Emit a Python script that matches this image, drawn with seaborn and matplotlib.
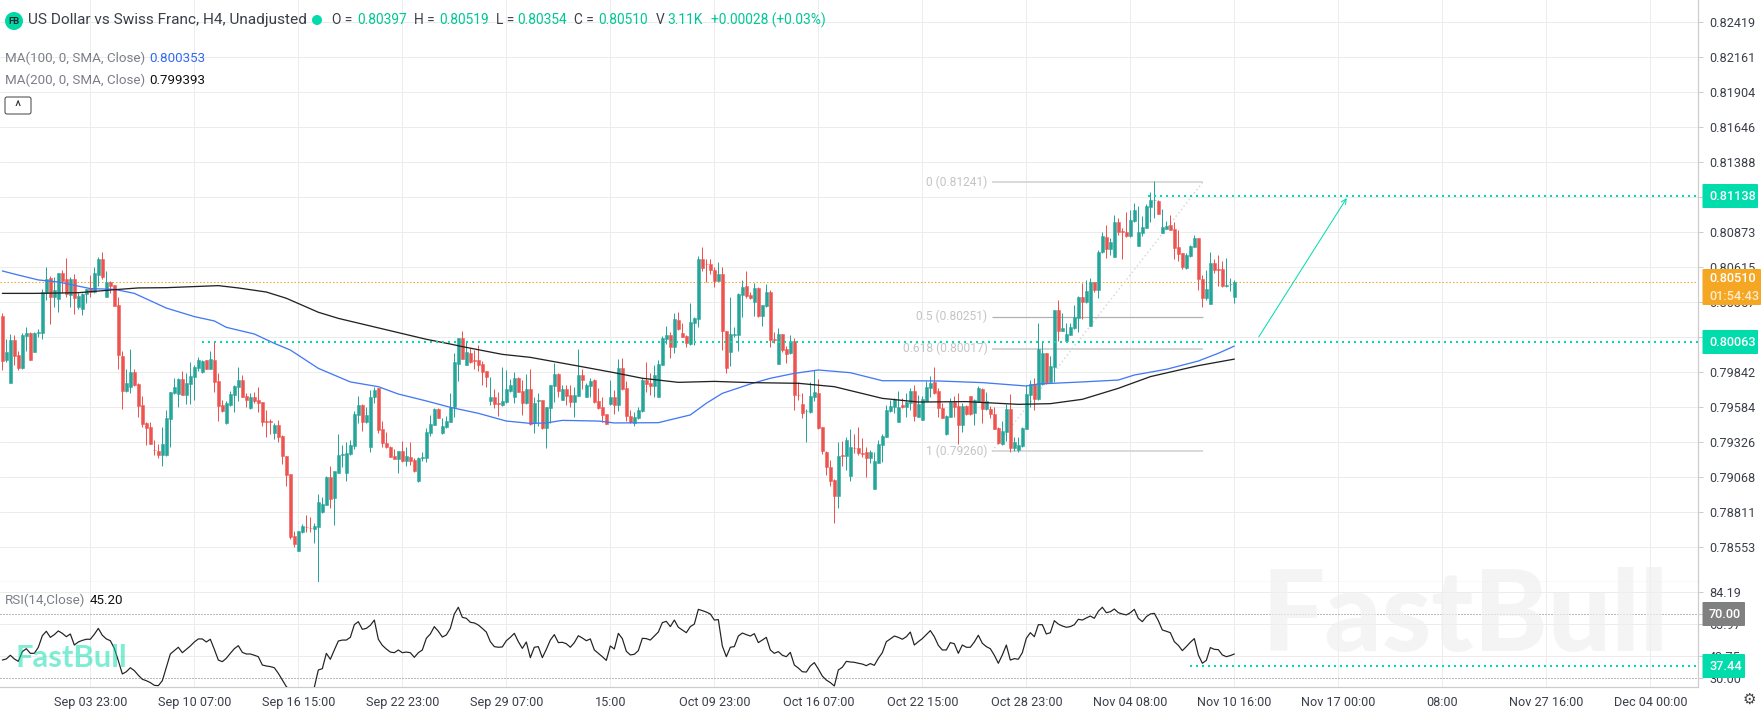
import matplotlib
matplotlib.use("Agg")
import matplotlib.pyplot as plt
from matplotlib.patches import Circle, FancyBboxPatch
import seaborn as sns

# candles, one per 4h bar
open_prices = [
    0.80257, 0.79933, 0.79766, 0.80080, 0.79969, 0.79874, 0.80109, 0.80131, 0.79994, 0.80132,
    0.80134, 0.80428, 0.80534, 0.80399, 0.80384, 0.80571, 0.80527, 0.80414, 0.80527, 0.80325,
    0.80308, 0.80419, 0.80463, 0.80436, 0.80558, 0.80676, 0.80399, 0.80507, 0.80482, 0.80335,
    0.79962, 0.79707, 0.79736, 0.79844, 0.79756, 0.79601, 0.79466, 0.79437, 0.79272, 0.79263,
    0.79233, 0.79236, 0.79496, 0.79692, 0.79682, 0.79793, 0.79677, 0.79758, 0.79810, 0.79876,
    0.79844, 0.79933, 0.79869, 0.79933, 0.79775, 0.79601, 0.79466, 0.79601, 0.79675, 0.79736,
    0.79785, 0.79667, 0.79582, 0.79660, 0.79636, 0.79623, 0.79481, 0.79481, 0.79398, 0.79454,
    0.79373, 0.79226, 0.79093, 0.78636, 0.78526, 0.78666, 0.78705, 0.78697, 0.78688, 0.78703,
    0.78816, 0.78865, 0.79074, 0.78917, 0.79103, 0.79236, 0.79098, 0.79238, 0.79302, 0.79528,
    0.79601, 0.79476, 0.79294, 0.79658, 0.79724, 0.79425, 0.79324, 0.79294, 0.79226, 0.79204,
    0.79263, 0.79186, 0.79218, 0.79196, 0.79042, 0.79214, 0.79211, 0.79398, 0.79456, 0.79574,
    0.79393, 0.79437, 0.79479, 0.79589, 0.79903, 0.80095, 0.79896, 0.79984, 0.79932, 0.79933,
    0.79903, 0.79849, 0.79633, 0.79660, 0.79616, 0.79601, 0.79623, 0.79707, 0.79658, 0.79800,
    0.79707, 0.79614, 0.79717, 0.79466, 0.79634, 0.79638, 0.79434, 0.79582, 0.79741, 0.79832,
    0.79638, 0.79719, 0.79675, 0.79623, 0.79667, 0.79822, 0.79663, 0.79741, 0.79785, 0.79631,
    0.79587, 0.79535, 0.79609, 0.79658, 0.79601, 0.79874, 0.79726, 0.79520, 0.79466, 0.79506,
    0.79555, 0.79785, 0.79766, 0.79741, 0.79663, 0.79896, 0.80087, 0.80117, 0.80031, 0.80227,
    0.80131, 0.80109, 0.80050, 0.80207, 0.80237, 0.80679, 0.80641, 0.80639, 0.80595, 0.80517,
    0.80566, 0.80149, 0.79991, 0.80120, 0.80117, 0.80411, 0.80477, 0.80411, 0.80360, 0.80463,
    0.80257, 0.80330, 0.80433, 0.80087, 0.79906, 0.80124, 0.80014, 0.79982, 0.80072, 0.79677,
    0.79609, 0.79555, 0.79550, 0.79663, 0.79692, 0.79439, 0.79258, 0.79142, 0.79049, 0.78934,
    0.79233, 0.79228, 0.79081, 0.79287, 0.79285, 0.79247, 0.79255, 0.79211, 0.78985, 0.79177,
    0.79304, 0.79368, 0.79557, 0.79586, 0.79478, 0.79604, 0.79584, 0.79618, 0.79707, 0.79515,
    0.79491, 0.79633, 0.79726, 0.79768, 0.79707, 0.79579, 0.79385, 0.79515, 0.79623, 0.79594,
    0.79451, 0.79594, 0.79667, 0.79540, 0.79626, 0.79719, 0.79569, 0.79574, 0.79535, 0.79434,
    0.79314, 0.79405, 0.79572, 0.79282, 0.79270, 0.79299, 0.79424, 0.79675, 0.79756, 0.79643,
    0.79753, 0.79982, 0.79771, 0.79883, 0.80301, 0.80146, 0.80072, 0.80119, 0.80166, 0.80242,
    0.80399, 0.80359, 0.80185, 0.80509, 0.80448, 0.80728, 0.80838, 0.80750, 0.80693, 0.80948,
    0.80882, 0.80875, 0.80845, 0.80953, 0.80772, 0.80868, 0.80904, 0.81061, 0.81108, 0.81106,
    0.80868, 0.80897, 0.80929, 0.80897, 0.80764, 0.80718, 0.80610, 0.80698, 0.80767, 0.80831,
    0.80526, 0.80389, 0.80347, 0.80647, 0.80602, 0.80602, 0.80480, 0.80490, 0.80397,
]
high_prices = [
    0.80276, 0.80085, 0.80124, 0.80119, 0.79996, 0.80134, 0.80178, 0.80139, 0.80139, 0.80158,
    0.80453, 0.80615, 0.80551, 0.80546, 0.80571, 0.80595, 0.80681, 0.80546, 0.80563, 0.80428,
    0.80428, 0.80458, 0.80556, 0.80620, 0.80689, 0.80725, 0.80585, 0.80517, 0.80482, 0.80399,
    0.80001, 0.79864, 0.80011, 0.79864, 0.79761, 0.79670, 0.79476, 0.79476, 0.79344, 0.79312,
    0.79442, 0.79564, 0.79699, 0.79798, 0.79803, 0.79854, 0.79834, 0.79920, 0.79893, 0.79952,
    0.79933, 0.79933, 0.79996, 0.80065, 0.79834, 0.79638, 0.79628, 0.79707, 0.79746, 0.79879,
    0.79822, 0.79687, 0.79692, 0.79697, 0.79731, 0.79623, 0.79564, 0.79496, 0.79466, 0.79491,
    0.79378, 0.79226, 0.79093, 0.78673, 0.78673, 0.78725, 0.78791, 0.78776, 0.78732, 0.78943,
    0.78926, 0.79081, 0.79155, 0.79115, 0.79385, 0.79307, 0.79326, 0.79344, 0.79560, 0.79667,
    0.79609, 0.79589, 0.79712, 0.79731, 0.79724, 0.79486, 0.79405, 0.79299, 0.79275, 0.79263,
    0.79339, 0.79290, 0.79326, 0.79209, 0.79221, 0.79258, 0.79429, 0.79528, 0.79579, 0.79579,
    0.79503, 0.79520, 0.79687, 0.79987, 0.80095, 0.80144, 0.80075, 0.80018, 0.80004, 0.80041,
    0.79928, 0.79854, 0.79805, 0.79717, 0.79695, 0.79879, 0.79859, 0.79790, 0.79842, 0.79810,
    0.79785, 0.79829, 0.79864, 0.79658, 0.79692, 0.79638, 0.79589, 0.79748, 0.79913, 0.79834,
    0.79751, 0.79746, 0.79751, 0.79736, 0.80011, 0.79864, 0.79766, 0.79798, 0.79790, 0.79724,
    0.79663, 0.79535, 0.79785, 0.79712, 0.79937, 0.79945, 0.79780, 0.79564, 0.79552, 0.79589,
    0.79798, 0.79920, 0.79839, 0.79896, 0.79933, 0.80109, 0.80185, 0.80141, 0.80276, 0.80288,
    0.80203, 0.80114, 0.80355, 0.80247, 0.80698, 0.80762, 0.80679, 0.80674, 0.80615, 0.80654,
    0.80620, 0.80149, 0.80394, 0.80173, 0.80423, 0.80522, 0.80585, 0.80436, 0.80502, 0.80468,
    0.80340, 0.80492, 0.80448, 0.80141, 0.80168, 0.80124, 0.80036, 0.80114, 0.80092, 0.79773,
    0.79692, 0.79569, 0.79773, 0.79859, 0.79790, 0.79442, 0.79265, 0.79196, 0.79054, 0.79326,
    0.79339, 0.79368, 0.79422, 0.79388, 0.79442, 0.79356, 0.79294, 0.79270, 0.79258, 0.79343,
    0.79388, 0.79601, 0.79638, 0.79655, 0.79704, 0.79650, 0.79687, 0.79729, 0.79748, 0.79672,
    0.79667, 0.79778, 0.79815, 0.79878, 0.79724, 0.79613, 0.79528, 0.79650, 0.79667, 0.79687,
    0.79613, 0.79599, 0.79667, 0.79643, 0.79741, 0.79724, 0.79699, 0.79594, 0.79584, 0.79442,
    0.79486, 0.79606, 0.79682, 0.79368, 0.79363, 0.79437, 0.79748, 0.79785, 0.79797, 0.80207,
    0.80067, 0.79987, 0.79962, 0.80301, 0.80374, 0.80276, 0.80202, 0.80202, 0.80337, 0.80404,
    0.80497, 0.80521, 0.80534, 0.80509, 0.80742, 0.80877, 0.80926, 0.80828, 0.80998, 0.80975,
    0.80902, 0.81022, 0.81037, 0.81086, 0.81066, 0.80993, 0.81081, 0.81169, 0.81248, 0.81110,
    0.81047, 0.80953, 0.80998, 0.80951, 0.80887, 0.80720, 0.80718, 0.80779, 0.80850, 0.80831,
    0.80556, 0.80595, 0.80725, 0.80674, 0.80706, 0.80661, 0.80681, 0.80534, 0.80519,
]
low_prices = [
    0.79859, 0.79918, 0.79766, 0.79896, 0.79859, 0.79869, 0.80001, 0.79935, 0.79991, 0.80104,
    0.80090, 0.80374, 0.80198, 0.80325, 0.80288, 0.80423, 0.80399, 0.80320, 0.80271, 0.80308,
    0.80266, 0.80355, 0.80399, 0.80428, 0.80477, 0.80527, 0.80399, 0.80428, 0.80333, 0.79869,
    0.79569, 0.79699, 0.79692, 0.79744, 0.79510, 0.79442, 0.79304, 0.79312, 0.79233, 0.79209,
    0.79152, 0.79226, 0.79294, 0.79682, 0.79584, 0.79672, 0.79609, 0.79611, 0.79638, 0.79854,
    0.79834, 0.79869, 0.79866, 0.79697, 0.79486, 0.79552, 0.79461, 0.79594, 0.79550, 0.79633,
    0.79658, 0.79584, 0.79569, 0.79618, 0.79552, 0.79447, 0.79368, 0.79388, 0.79353, 0.79331,
    0.79167, 0.79007, 0.78615, 0.78555, 0.78526, 0.78659, 0.78666, 0.78666, 0.78585, 0.78298,
    0.78804, 0.78865, 0.78840, 0.78717, 0.79098, 0.79147, 0.79044, 0.79233, 0.79275, 0.79466,
    0.79412, 0.79466, 0.79255, 0.79613, 0.79393, 0.79290, 0.79282, 0.79218, 0.79201, 0.79103,
    0.79184, 0.79155, 0.79157, 0.79110, 0.79037, 0.79191, 0.79184, 0.79373, 0.79452, 0.79503,
    0.79388, 0.79432, 0.79476, 0.79515, 0.79780, 0.79942, 0.79893, 0.79913, 0.79869, 0.79849,
    0.79751, 0.79736, 0.79604, 0.79577, 0.79520, 0.79596, 0.79618, 0.79699, 0.79618, 0.79695,
    0.79528, 0.79609, 0.79454, 0.79398, 0.79447, 0.79422, 0.79287, 0.79466, 0.79626, 0.79658,
    0.79636, 0.79601, 0.79584, 0.79515, 0.79667, 0.79717, 0.79658, 0.79663, 0.79618, 0.79569,
    0.79476, 0.79464, 0.79601, 0.79535, 0.79557, 0.79712, 0.79481, 0.79471, 0.79447, 0.79496,
    0.79552, 0.79697, 0.79675, 0.79663, 0.79663, 0.79896, 0.80050, 0.79945, 0.79982, 0.80153,
    0.80099, 0.80026, 0.80045, 0.80043, 0.80178, 0.80590, 0.80507, 0.80566, 0.80473, 0.80512,
    0.80006, 0.79839, 0.79888, 0.80104, 0.80001, 0.80252, 0.80387, 0.80379, 0.80257, 0.80252,
    0.80183, 0.80325, 0.80031, 0.80060, 0.79906, 0.79994, 0.79913, 0.79977, 0.79564, 0.79638,
    0.79506, 0.79329, 0.79540, 0.79633, 0.79422, 0.79240, 0.79086, 0.79007, 0.78735, 0.78845,
    0.79152, 0.79123, 0.79044, 0.79250, 0.79233, 0.79221, 0.79069, 0.79172, 0.78985, 0.79172,
    0.79184, 0.79363, 0.79552, 0.79540, 0.79476, 0.79577, 0.79515, 0.79564, 0.79486, 0.79515,
    0.79491, 0.79628, 0.79662, 0.79682, 0.79510, 0.79503, 0.79380, 0.79510, 0.79515, 0.79314,
    0.79402, 0.79528, 0.79528, 0.79454, 0.79623, 0.79466, 0.79564, 0.79508, 0.79422, 0.79314,
    0.79309, 0.79339, 0.79255, 0.79260, 0.79258, 0.79294, 0.79422, 0.79589, 0.79564, 0.79638,
    0.79748, 0.79756, 0.79766, 0.79771, 0.80072, 0.80144, 0.80067, 0.80114, 0.80163, 0.80139,
    0.80234, 0.80355, 0.80185, 0.80431, 0.80386, 0.80723, 0.80686, 0.80706, 0.80691, 0.80853,
    0.80676, 0.80840, 0.80836, 0.80949, 0.80772, 0.80848, 0.80904, 0.80951, 0.80980, 0.81005,
    0.80868, 0.80895, 0.80890, 0.80676, 0.80659, 0.80605, 0.80605, 0.80693, 0.80762, 0.80448,
    0.80325, 0.80374, 0.80347, 0.80571, 0.80477, 0.80472, 0.80472, 0.80443, 0.80354,
]
close_prices = [
    0.79928, 0.79991, 0.80080, 0.79964, 0.79874, 0.80117, 0.80131, 0.79935, 0.80131, 0.80136,
    0.80436, 0.80527, 0.80399, 0.80448, 0.80571, 0.80517, 0.80419, 0.80527, 0.80387, 0.80404,
    0.80419, 0.80458, 0.80431, 0.80571, 0.80676, 0.80546, 0.80507, 0.80477, 0.80333, 0.79972,
    0.79707, 0.79761, 0.79844, 0.79748, 0.79596, 0.79464, 0.79432, 0.79317, 0.79268, 0.79233,
    0.79312, 0.79503, 0.79699, 0.79731, 0.79793, 0.79677, 0.79766, 0.79815, 0.79879, 0.79933,
    0.79925, 0.79869, 0.79940, 0.79773, 0.79596, 0.79557, 0.79618, 0.79682, 0.79741, 0.79785,
    0.79660, 0.79640, 0.79658, 0.79631, 0.79616, 0.79479, 0.79477, 0.79477, 0.79454, 0.79366,
    0.79228, 0.79088, 0.78629, 0.78578, 0.78673, 0.78710, 0.78701, 0.78693, 0.78710, 0.78885,
    0.78872, 0.79074, 0.78912, 0.79115, 0.79233, 0.79240, 0.79245, 0.79307, 0.79535, 0.79601,
    0.79476, 0.79528, 0.79663, 0.79712, 0.79417, 0.79319, 0.79290, 0.79218, 0.79204, 0.79263,
    0.79189, 0.79226, 0.79189, 0.79115, 0.79211, 0.79218, 0.79405, 0.79461, 0.79574, 0.79506,
    0.79447, 0.79483, 0.79589, 0.79918, 0.80095, 0.79942, 0.79989, 0.79920, 0.79928, 0.79896,
    0.79844, 0.79810, 0.79660, 0.79609, 0.79612, 0.79631, 0.79719, 0.79748, 0.79800, 0.79699,
    0.79616, 0.79719, 0.79461, 0.79618, 0.79638, 0.79429, 0.79589, 0.79746, 0.79832, 0.79702,
    0.79719, 0.79667, 0.79623, 0.79675, 0.79822, 0.79785, 0.79748, 0.79775, 0.79626, 0.79577,
    0.79530, 0.79464, 0.79663, 0.79604, 0.79874, 0.79717, 0.79520, 0.79479, 0.79510, 0.79564,
    0.79785, 0.79756, 0.79741, 0.79822, 0.79903, 0.80095, 0.80117, 0.80026, 0.80234, 0.80158,
    0.80102, 0.80055, 0.80212, 0.80242, 0.80674, 0.80610, 0.80637, 0.80595, 0.80517, 0.80566,
    0.80149, 0.79874, 0.80124, 0.80124, 0.80419, 0.80468, 0.80404, 0.80387, 0.80463, 0.80257,
    0.80335, 0.80433, 0.80080, 0.80083, 0.80122, 0.80006, 0.79979, 0.80072, 0.79677, 0.79673,
    0.79542, 0.79559, 0.79667, 0.79697, 0.79432, 0.79265, 0.79142, 0.79044, 0.78934, 0.79226,
    0.79226, 0.79343, 0.79294, 0.79282, 0.79248, 0.79243, 0.79211, 0.79255, 0.79189, 0.79314,
    0.79373, 0.79564, 0.79594, 0.79643, 0.79584, 0.79584, 0.79623, 0.79702, 0.79520, 0.79609,
    0.79645, 0.79736, 0.79761, 0.79687, 0.79577, 0.79508, 0.79523, 0.79621, 0.79589, 0.79456,
    0.79594, 0.79535, 0.79535, 0.79638, 0.79724, 0.79572, 0.79631, 0.79532, 0.79427, 0.79324,
    0.79410, 0.79572, 0.79282, 0.79326, 0.79307, 0.79429, 0.79682, 0.79753, 0.79643, 0.80013,
    0.79982, 0.79766, 0.79888, 0.80301, 0.80146, 0.80170, 0.80124, 0.80173, 0.80251, 0.80399,
    0.80359, 0.80440, 0.80509, 0.80448, 0.80728, 0.80845, 0.80750, 0.80801, 0.80948, 0.80875,
    0.80878, 0.80845, 0.80963, 0.81037, 0.80877, 0.80912, 0.81066, 0.81110, 0.81112, 0.81007,
    0.80912, 0.80919, 0.80890, 0.80757, 0.80713, 0.80615, 0.80706, 0.80772, 0.80831, 0.80529,
    0.80389, 0.80453, 0.80647, 0.80595, 0.80598, 0.80477, 0.80484, 0.80494, 0.80510,
]

# moving averages, sampled where the curves bend
ma100_bars = [0, 4, 9, 14, 22, 28, 33, 41, 48, 53, 56, 63, 68, 72, 79, 87, 94, 99, 106, 112, 119,
              126, 132, 136, 140, 149, 153, 164, 172, 176, 180, 187, 192, 198, 204, 212, 220, 224,
              234, 245, 256, 259, 270, 279, 283, 291, 299, 304, 308]
ma100_values = [0.80588, 0.80558, 0.80522, 0.80507, 0.80458, 0.80453, 0.80423, 0.80315, 0.80252,
                0.80220, 0.80173, 0.80124, 0.80055, 0.80006, 0.79871, 0.79771, 0.79736, 0.79682,
                0.79631, 0.79584, 0.79540, 0.79483, 0.79466, 0.79469, 0.79488, 0.79483, 0.79469,
                0.79471, 0.79528, 0.79614, 0.79687, 0.79756, 0.79798, 0.79834, 0.79859, 0.79839,
                0.79780, 0.79780, 0.79778, 0.79766, 0.79741, 0.79756, 0.79771, 0.79785, 0.79822,
                0.79864, 0.79925, 0.79982, 0.80035]
ma200_bars = [0, 8, 19, 28, 34, 41, 54, 59, 66, 71, 79, 84, 91, 99, 106, 112, 115, 125, 132, 144,
              153, 160, 169, 178, 187, 199, 208, 220, 229, 241, 254, 262, 270, 279, 287, 299, 308]
ma200_values = [0.80423, 0.80423, 0.80428, 0.80450, 0.80463, 0.80465, 0.80480, 0.80463, 0.80433,
                0.80387, 0.80284, 0.80239, 0.80190, 0.80134, 0.80085, 0.80050, 0.80031, 0.79974,
                0.79952, 0.79888, 0.79839, 0.79798, 0.79768, 0.79775, 0.79766, 0.79761, 0.79736,
                0.79650, 0.79623, 0.79626, 0.79606, 0.79611, 0.79643, 0.79724, 0.79810, 0.79891,
                0.79939]

rsi_values = [
    41.4, 42.1, 44.4, 42.1, 40.6, 46.7, 48.5, 45.6, 45.6, 49.4,
    56.6, 59.4, 55.6, 57.3, 59.6, 58.1, 56.0, 57.7, 50.8, 52.7,
    53.7, 54.4, 54.4, 57.5, 61.2, 56.9, 54.6, 53.5, 48.7, 41.0,
    32.7, 34.1, 36.6, 34.8, 31.9, 29.4, 28.5, 27.3, 25.6, 25.4,
    28.5, 36.9, 45.2, 47.3, 49.4, 46.0, 48.1, 50.2, 52.7, 54.6,
    54.6, 52.7, 54.4, 48.1, 41.4, 40.4, 42.5, 45.6, 48.5, 50.4,
    46.2, 45.2, 45.2, 44.4, 43.5, 38.3, 37.7, 37.3, 36.6, 33.1,
    28.9, 24.8, 22.7, 18.5, 15.4, 13.3, 15.4, 20.6, 24.4, 35.2,
    36.0, 45.6, 41.9, 47.7, 53.3, 53.9, 53.9, 55.6, 63.5, 65.4,
    60.6, 61.2, 63.1, 66.4, 54.4, 50.6, 48.3, 46.4, 46.0, 47.7,
    46.0, 46.4, 46.0, 43.1, 46.0, 47.7, 55.0, 57.7, 62.3, 59.4,
    55.8, 57.1, 61.2, 70.2, 74.4, 68.1, 67.5, 65.0, 64.6, 63.3,
    61.2, 58.9, 52.9, 49.8, 49.4, 49.6, 53.5, 55.6, 58.1, 52.9,
    48.7, 52.7, 42.9, 49.4, 49.8, 42.9, 48.1, 53.9, 57.3, 52.3,
    52.5, 51.6, 49.4, 52.3, 56.6, 55.2, 53.5, 54.6, 47.7, 45.6,
    43.5, 41.2, 50.2, 48.3, 58.1, 54.8, 46.9, 44.6, 45.0, 47.3,
    55.0, 54.8, 53.9, 56.4, 58.9, 64.8, 65.6, 62.3, 66.4, 61.9,
    60.2, 58.5, 62.3, 63.9, 73.1, 72.3, 71.4, 70.2, 66.4, 66.7,
    50.2, 43.5, 49.4, 49.8, 56.4, 58.3, 57.3, 56.4, 57.9, 52.3,
    53.9, 55.6, 47.7, 45.6, 46.7, 44.4, 43.5, 46.2, 38.3, 36.4,
    34.1, 33.9, 37.7, 39.8, 35.8, 31.4, 28.9, 27.3, 25.2, 35.2,
    36.9, 40.6, 40.2, 40.0, 39.4, 38.9, 37.9, 39.2, 38.1, 42.5,
    46.0, 52.9, 54.6, 56.4, 55.6, 54.4, 56.0, 58.9, 50.8, 52.9,
    54.8, 57.3, 59.8, 56.0, 50.6, 47.7, 47.7, 52.3, 51.6, 45.6,
    50.8, 49.4, 49.4, 52.7, 56.9, 51.9, 49.8, 48.5, 44.4, 39.4,
    44.6, 50.8, 41.4, 42.3, 41.9, 46.0, 55.0, 58.5, 56.0, 63.5,
    63.5, 57.7, 58.5, 66.0, 63.9, 62.7, 61.9, 62.3, 63.5, 66.9,
    66.4, 67.7, 68.9, 67.5, 71.9, 74.4, 71.0, 71.6, 73.3, 71.0,
    70.2, 69.6, 71.0, 73.1, 67.5, 65.4, 68.5, 70.2, 70.6, 66.0,
    60.2, 59.4, 58.5, 52.9, 50.6, 47.3, 49.8, 52.5, 54.8, 44.6,
    39.4, 41.2, 49.2, 48.1, 47.9, 44.6, 43.5, 44.2, 45.2,
]

price_ticks = [0.82419, 0.82161, 0.81904, 0.81646, 0.81388, 0.81131, 0.80873, 0.80615,
               0.80357, 0.80100, 0.79842, 0.79584, 0.79326, 0.79068, 0.78811, 0.78553]
rsi_ticks = [84.19, 70.00, 63.97, 43.75, 30.00]
date_bars = [22, 48, 74, 100, 126, 152, 178, 204, 230, 256, 282, 308, 334, 360, 386, 412]
date_labels = ["Sep 03 23:00", "Sep 10 07:00", "Sep 16 15:00", "Sep 22 23:00", "Sep 29 07:00",
               "15:00", "Oct 09 23:00", "Oct 16 07:00", "Oct 22 15:00", "Oct 28 23:00",
               "Nov 04 08:00", "Nov 10 16:00", "Nov 17 00:00", "08:00", "Nov 27 16:00", "Dec 04 00:00"]

last_price = 0.80510
target_level = 0.81138
support_level = 0.80063
rsi_level = 37.44
fib_levels = [0.81241, 0.80251, 0.80017, 0.79260]
fib_labels = ["0 (0.81241)", "0.5 (0.80251)", "0.618 (0.80017)", "1 (0.79260)"]

GREEN = "#26a69a"
RED = "#ef5350"
TEAL = "#00dcab"
ORANGE = "#f5a623"
BLUE = "#4478f5"
GRID = "#ececec"
AXIS = "#cccccc"
INK = "#3a3f4a"
MUTED = "#7c7f88"
FONT = ["Roboto", "DejaVu Sans"]

sns.set_theme(style="white")
plt.rcParams["font.family"] = FONT

W, H = 1762, 714
PX = 72 / 100  # one pixel in points
fig = plt.figure(figsize=(W / 100, H / 100), dpi=100, facecolor="white")
ax = fig.add_axes([0, (H - 582) / H, 1698 / W, 582 / H])
rsi_ax = fig.add_axes([0, (H - 687) / H, 1698 / W, 105 / H])

bars = list(range(len(close_prices)))
xlim = (-0.5825, 423.9175)

# candles
colors = [GREEN if c >= o else RED for o, c in zip(open_prices, close_prices)]
ax.vlines(bars, low_prices, high_prices, colors=colors, linewidth=1.0 * PX, zorder=3)
ax.bar(bars, [c - o for o, c in zip(open_prices, close_prices)], bottom=open_prices, width=0.62,
       color=colors, edgecolor=colors, linewidth=0.5 * PX, zorder=4)

sns.lineplot(x=ma100_bars, y=ma100_values, ax=ax, color=BLUE, linewidth=1.3 * PX, zorder=5)
sns.lineplot(x=ma200_bars, y=ma200_values, ax=ax, color="#222222", linewidth=1.3 * PX, zorder=5)

# horizontal levels
ax.axhline(last_price, color=ORANGE, linewidth=1.0 * PX, linestyle=(0, (1.5, 2)), zorder=2)
ax.hlines(target_level, 286.5, xlim[1], color=TEAL, linewidth=2.0 * PX, linestyle=(0, (1, 2)), zorder=6)
ax.hlines(support_level, 50, xlim[1], color=TEAL, linewidth=2.0 * PX, linestyle=(0, (1, 2)), zorder=6)

# fibonacci retracement
fib_widths = [1.8, 1.2, 1.5, 1.8]
fib_colors = ["#d6d6d6", "#b0b0b0", "#c8c8c8", "#d6d6d6"]
for level, label_text, lw, col in zip(fib_levels, fib_labels, fib_widths, fib_colors):
    ax.hlines(level, 247.4, 300.1, color=col, linewidth=lw * PX, zorder=2)
    ax.text(246.3, level, label_text, ha="right", va="center", color="#c4c4c4", fontsize=12 * PX, zorder=7)
ax.plot([247.4, 300.1], [fib_levels[3], fib_levels[0]], color="#d4d4d4",
        linewidth=1.4 * PX, linestyle=(0, (1, 2)), zorder=2)

# projected move
ax.annotate("", xy=(336.1, 0.81125), xytext=(314.1, 0.80102),
            arrowprops=dict(arrowstyle="->", color=TEAL, linewidth=1.0 * PX,
                            mutation_scale=9, shrinkA=0, shrinkB=0))

ax.set_xlim(xlim)
ax.set_ylim(0.78298, 0.82583)
ax.set_xticks(date_bars)
ax.set_xticklabels([])
ax.tick_params(axis="x", length=0)
ax.yaxis.tick_right()
ax.set_yticks(price_ticks)
ax.set_yticklabels([f"{v:.5f}" for v in price_ticks], color=INK, fontsize=12.6 * PX)
ax.tick_params(axis="y", length=5 * PX, width=1 * PX, color=AXIS, pad=6 * PX)
ax.grid(True, color=GRID, linewidth=1.0 * PX, zorder=0)
ax.set_axisbelow(True)
ax.set_xlabel("")
ax.set_ylabel("")

# rsi pane
sns.lineplot(x=bars, y=rsi_values, ax=rsi_ax, color="#222222", linewidth=1.2 * PX, zorder=4)
for level in (70, 30):
    rsi_ax.axhline(level, color="#777777", linewidth=1.0 * PX, linestyle=(0, (1, 2)), zorder=2)
rsi_ax.hlines(rsi_level, 297, xlim[1], color=TEAL, linewidth=2.0 * PX, linestyle=(0, (1, 2)), zorder=5)
rsi_ax.set_xlim(xlim)
rsi_ax.set_ylim(24.56, 90.19)
rsi_ax.set_xticks(date_bars)
rsi_ax.set_xticklabels(date_labels, color=INK, fontsize=12.6 * PX)
rsi_ax.tick_params(axis="x", length=5 * PX, width=1 * PX, color=AXIS, pad=4 * PX)
rsi_ax.yaxis.tick_right()
rsi_ax.set_yticks(rsi_ticks)
rsi_ax.set_yticklabels([f"{v:.2f}" for v in rsi_ticks], color=INK, fontsize=12.6 * PX)
rsi_ax.tick_params(axis="y", length=5 * PX, width=1 * PX, color=AXIS, pad=6 * PX)
rsi_ax.grid(True, color=GRID, linewidth=1.0 * PX, zorder=0)
rsi_ax.grid(False, axis="y")
for v in (84.19, 63.97, 43.75):
    rsi_ax.axhline(v, color=GRID, linewidth=1.0 * PX, zorder=1)
rsi_ax.set_axisbelow(True)
rsi_ax.set_xlabel("")
rsi_ax.set_ylabel("")

for a in (ax, rsi_ax):
    for name, spine in a.spines.items():
        spine.set_visible(name in ("right", "bottom"))
        spine.set_color(AXIS)
        spine.set_linewidth(1.2 * PX)

# overlay in pixel coordinates for the legend texts, price tags and watermarks
ov = fig.add_axes([0, 0, 1, 1], zorder=10)
ov.set_xlim(0, W)
ov.set_ylim(H, 0)
ov.axis("off")
ov.patch.set_alpha(0)


def label(x, y, s, color=INK, size=13.4, **kw):
    kw.setdefault("va", "center")
    ov.text(x, y, s, color=color, fontsize=size * PX, **kw)


def tag(y0, y1, x1, face, lines, size=12.8):
    ov.add_patch(FancyBboxPatch((1703.5, y0 + 1), x1 - 1704.5, y1 - y0 - 2, boxstyle="round,pad=1",
                                facecolor=face, edgecolor="none", zorder=5))
    step = (y1 - y0) / len(lines)
    for i, (s, col) in enumerate(lines):
        ov.text(1709, y0 + step * (i + 0.5), s, color=col, fontsize=size * PX, va="center",
                fontweight="medium", zorder=6)


# watermarks
ov.text(1465, 618, "FastBull", ha="center", va="center", color="#f0f0f0", alpha=0.7,
        fontsize=112 * PX, family=["Lato", "DejaVu Sans"], fontweight="black", zorder=1)
ov.text(16, 658, "FastBull", ha="left", va="center", color="#00dcab", alpha=0.5,
        fontsize=31 * PX, family=["Lato", "DejaVu Sans"], fontweight="bold", zorder=1)

# header
ov.add_patch(Circle((14, 21), 9, facecolor="#00d9a6", edgecolor="none"))
label(14, 21, "FB", color="#1f2a30", size=9.5, ha="center", fontweight="bold")
label(28, 20, "US Dollar vs Swiss Franc, H4, Unadjusted", size=15.4)
ov.add_patch(Circle((317, 20), 5, facecolor=TEAL, edgecolor="none"))
for x, s in [(332, "O ="), (414, "H ="), (496, "L ="), (574.5, "C ="), (656, "V")]:
    label(x, 20, s, size=13.8)
for x, s in [(357, "0.80397"), (439, "0.80519"), (517, "0.80354"), (598, "0.80510"), (667, "3.11K"),
             (711, "+0.00028 (+0.03%)")]:
    label(x, 20, s, color="#00c796", size=13.8)
label(5, 58, "MA(100, 0, SMA, Close)", color=MUTED)
label(149, 58, "0.800353", color="#2f68f5")
label(5, 80, "MA(200, 0, SMA, Close)", color=MUTED)
label(149, 80, "0.799393", color="#111111")
ov.add_patch(FancyBboxPatch((6, 98), 24, 15, boxstyle="round,pad=1,rounding_size=2",
                            facecolor="white", edgecolor="#444444", linewidth=1 * PX))
label(18, 107, "^", color="#333333", size=15, ha="center")
label(5, 600, "RSI(14,Close)", color=MUTED)
label(90, 600, "45.20", color="#111111")

# price tags on the axis
tag(184, 208, 1758, TEAL, [("0.81138", "white")])
tag(330, 354, 1758, TEAL, [("0.80063", "white")])
tag(269, 305, 1761, ORANGE, [("0.80510", "white"), ("01:54:43", "#fdeccb")])
tag(602, 626, 1745, "#808080", [("70.00", "white")])
tag(654, 678, 1745, TEAL, [("37.44", "white")])

# settings gear
ov.text(1749, 699, "\u2699", ha="center", va="center", color="#444444", fontsize=15 * PX,
        family="DejaVu Sans")

fig.savefig("out.png", dpi=100, facecolor="white")
